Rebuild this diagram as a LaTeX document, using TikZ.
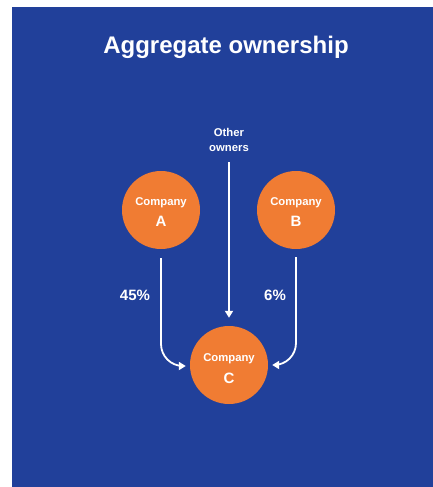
\documentclass[tikz,border=0pt]{standalone}
\usepackage{fontspec}
\setmainfont{Liberation Sans}
\usetikzlibrary{arrows.meta}
\definecolor{bgblue}{HTML}{21409A}
\definecolor{comporange}{HTML}{F07C33}
\tikzset{
  comp/.style={circle, fill=comporange, minimum size=78pt, inner sep=0pt},
  smalltxt/.style={text=white, anchor=base, inner sep=0pt, font=\fontsize{11.3}{13}\selectfont\bfseries},
  bigtxt/.style={text=white, anchor=base, inner sep=0pt, font=\fontsize{15}{18}\selectfont\bfseries},
  pcttxt/.style={text=white, anchor=base, inner sep=0pt, font=\fontsize{15}{18}\selectfont\bfseries},
  flow/.style={draw=white, line width=1.8pt, -{Triangle[width=8pt,length=7pt]}, rounded corners=22pt},
}
\begin{document}
\begin{tikzpicture}[x=1pt, y=-1pt]
\useasboundingbox (0,0) rectangle (433,487);
\fill[bgblue] (12,7) rectangle (433,487);
\node[text=white, anchor=base, inner sep=0pt, font=\fontsize{24}{28}\selectfont\bfseries] (title) at (226,53) {Aggregate ownership};
\node[comp] (A) at (161,210) {};
\node[comp] (B) at (296,210) {};
\node[comp] (C) at (229,365) {};
\node[smalltxt] (Al1) at (161,205) {Company};
\node[bigtxt] (Al2) at (161,226) {A};
\node[smalltxt] (Bl1) at (296,205) {Company};
\node[bigtxt] (Bl2) at (296,226) {B};
\node[smalltxt] (Cl1) at (229,361) {Company};
\node[bigtxt] (Cl2) at (229,383) {C};
\node[smalltxt] (oth1) at (229,136) {Other};
\node[smalltxt] (oth2) at (229,151.5) {owners};
\node[pcttxt] (p45) at (135,300) {45\%};
\node[pcttxt] (p6) at (275,300) {6\%};
\coordinate (As) at (161,258);
\coordinate (Bs) at (296,257);
\coordinate (Os) at (229,162);
\draw[flow] (As) |- ([xshift=-4pt,yshift=-1pt]C.west);
\draw[flow] (Bs) |- ([xshift=4pt]C.east);
\draw[flow] (Os) -- ([yshift=8pt]C.north);
\end{tikzpicture}
\end{document}
